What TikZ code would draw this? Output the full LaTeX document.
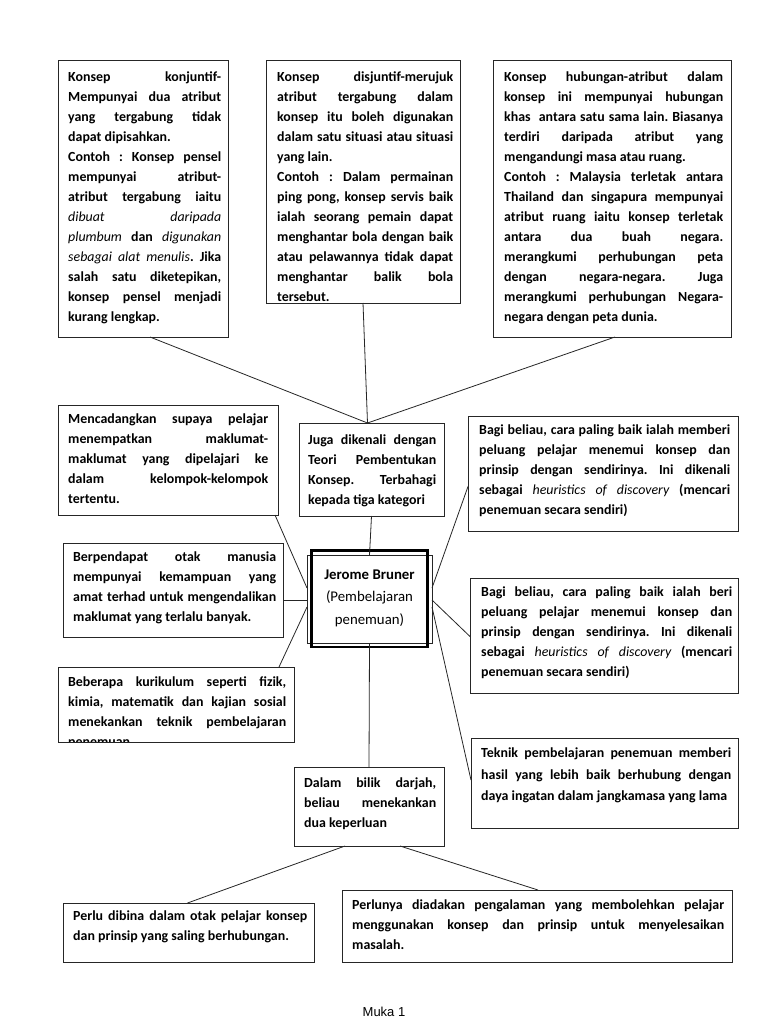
\documentclass[tikz,border=0pt]{standalone}
\usepackage{fontspec}
\setmainfont{Carlito}
\newfontfamily\pagefont{Liberation Sans}
\begin{document}
\frenchspacing
\begin{tikzpicture}[x=1pt,y=-1pt,
  box/.style={draw=black!85, line width=0.9pt, inner sep=0pt, outer sep=0pt, anchor=north west},
  txt/.style={anchor=north west, inner sep=0pt, text width=#1, align=justify, yshift=-3pt,
    font=\fontsize{13.9}{20}\selectfont\bfseries,
    execute at begin node={\parindent=0pt\tolerance=10000\hbadness=10000\hfuzz=3pt\hyphenpenalty=10000\exhyphenpenalty=10000\frenchspacing}},
  conn/.style={draw=black!85, line width=0.8pt}]
\useasboundingbox (0,0) rectangle (768,1024);
\fill[white] (0,0) rectangle (768,1024);
\newcommand\itl[1]{{\mdseries\itshape #1}}

% top row
\node[box, minimum width=170, minimum height=277] (b1) at (58,60) {};
\node[txt=153] (t1) at (68,69) {Konsep konjuntif-\linebreak Mempunyai dua atribut\linebreak yang tergabung tidak\linebreak dapat dipisahkan.\par
Contoh : Konsep pensel\linebreak mempunyai atribut-\linebreak atribut tergabung iaitu\linebreak \itl{dibuat daripada}\linebreak \itl{plumbum} dan \itl{digunakan}\linebreak \itl{sebagai alat menulis}. Jika\linebreak salah satu diketepikan,\linebreak konsep pensel menjadi\linebreak kurang lengkap.};

\node[box, minimum width=194, minimum height=243] (b2) at (266,60) {};
\node[txt=176] (t2) at (277,69) {Konsep disjuntif-merujuk\linebreak atribut tergabung dalam\linebreak konsep itu boleh digunakan\linebreak dalam satu situasi atau situasi\linebreak yang lain.\par
Contoh : Dalam permainan\linebreak ping pong, konsep servis baik\linebreak ialah seorang pemain dapat\linebreak menghantar bola dengan baik\linebreak atau pelawannya tidak dapat\linebreak menghantar balik bola\linebreak tersebut.};

\node[box, minimum width=238, minimum height=277] (b3) at (493,60) {};
\node[txt=219] (t3) at (504,69) {Konsep hubungan-atribut dalam\linebreak konsep ini mempunyai hubungan\linebreak khas\ \ antara satu sama lain. Biasanya\linebreak terdiri daripada atribut yang\linebreak mengandungi masa atau ruang.\par
Contoh : Malaysia terletak antara\linebreak Thailand dan singapura mempunyai\linebreak atribut ruang iaitu konsep terletak\linebreak antara dua buah negara.\linebreak merangkumi perhubungan peta\linebreak dengan negara-negara. Juga\linebreak merangkumi perhubungan Negara-\linebreak negara dengan peta dunia.};

% middle
\node[box, minimum width=220, minimum height=110] (l1) at (58,405) {};
\node[txt=200, yshift=2pt] (tl1) at (68,413) {Mencadangkan supaya pelajar\linebreak menempatkan maklumat-\linebreak maklumat yang dipelajari ke\linebreak dalam kelompok-kelompok\linebreak tertentu.};

\node[box, minimum width=145, minimum height=93] (juga) at (299,423) {};
\node[txt=128] (tj) at (308,432) {Juga dikenali dengan\linebreak Teori Pembentukan\linebreak Konsep. Terbahagi\linebreak kepada tiga kategori};

\node[box, minimum width=270, minimum height=115] (r1) at (468,416) {};
\node[txt=251] (tr1) at (479,422) {Bagi beliau, cara paling baik ialah memberi\linebreak peluang pelajar menemui konsep dan\linebreak prinsip dengan sendirinya. Ini dikenali\linebreak sebagai \itl{heuristics of discovery} (mencari\linebreak penemuan secara sendiri)};

\node[box, minimum width=220, minimum height=94] (l2) at (63,543) {};
\node[txt=203] (tl2) at (73,549) {Berpendapat otak manusia\linebreak mempunyai kemampuan yang\linebreak amat terhad untuk mengendalikan\linebreak maklumat yang terlalu banyak.};

\begin{scope}
\clip (58,667) rectangle (294,742);
\node[txt=218] (tl3) at (68,674) {Beberapa kurikulum seperti fizik,\linebreak kimia, matematik dan kajian sosial\linebreak menekankan teknik pembelajaran\linebreak penemuan.};
\end{scope}
\node[box, minimum width=236, minimum height=75] (l3) at (58,667) {};

% centre
\node[box, minimum width=125, minimum height=88, line width=0.8pt] (bru) at (307,555) {};
\draw[line width=2.6pt] ([shift={(4.5,-4.5)}]bru.north west) rectangle ([shift={(-4.5,4)}]bru.south east);
\node[align=center, inner sep=0pt, font=\fontsize{14.8}{22.5}\selectfont] (brut) at (369.5,598) {{\bfseries Jerome Bruner}\\(Pembelajaran\\penemuan)};

\node[box, minimum width=268, minimum height=115] (r2) at (470,578) {};
\node[txt=251] (tr2) at (481,584) {Bagi beliau, cara paling baik ialah beri\linebreak peluang pelajar menemui konsep dan\linebreak prinsip dengan sendirinya. Ini dikenali\linebreak sebagai \itl{heuristics of discovery} (mencari\linebreak penemuan secara sendiri)};

\node[box, minimum width=267, minimum height=90] (r3) at (471,738) {};
\node[txt=250, yshift=-1pt, font=\fontsize{13.9}{21.5}\selectfont\bfseries] (tr3) at (481,744) {Teknik pembelajaran penemuan memberi\linebreak hasil yang lebih baik berhubung dengan\linebreak daya ingatan dalam jangkamasa yang lama};

\node[box, minimum width=150, minimum height=79] (dal) at (294,767) {};
\node[txt=132] (td) at (304,775) {Dalam bilik darjah,\linebreak beliau menekankan\linebreak dua keperluan};

% bottom
\node[box, minimum width=251, minimum height=59] (bl) at (63,903) {};
\node[txt=234] (tbl) at (73,908) {Perlu dibina dalam otak pelajar konsep\linebreak dan prinsip yang saling berhubungan.};

\node[box, minimum width=390, minimum height=72] (br) at (342,890) {};
\node[txt=372, yshift=-1pt] (tbr) at (352,896) {Perlunya diadakan pengalaman yang membolehkan pelajar\linebreak menggunakan konsep dan prinsip untuk menyelesaikan\linebreak masalah.};

\node[font=\pagefont\fontsize{13}{15}\selectfont, inner sep=0pt] (muka) at (384,1012) {Muka 1};

% connectors
\draw[conn] ([xshift=7]b1.south) -- ([xshift=-4]juga.north);
\draw[conn] (b2.south) -- ([xshift=-4]juga.north);
\draw[conn] ([xshift=3]b3.south) -- ([xshift=-4]juga.north);
\draw[conn] (juga.south) -- (bru.north);
\draw[conn] ([xshift=-3]l1.south east) -- ([yshift=11]bru.west);
\draw[conn] ([yshift=-10]l2.east) -- ([yshift=-1]bru.west);
\draw[conn] ([xshift=-15]l3.north east) -- ([yshift=-8]bru.west);
\draw[conn] ([yshift=11]bru.east) -- ([yshift=-13]r1.west);
\draw[conn] ([yshift=-1]bru.east) -- ([yshift=-1]r2.west);
\draw[conn] ([yshift=-8]bru.east) -- ([yshift=3]r3.west);
\draw[conn] (bru.south) -- (dal.north);
\draw[conn] ([xshift=-24]dal.south) -- ([xshift=-1]bl.north);
\draw[conn] ([xshift=31]dal.south) -- ([xshift=1]br.north);
\end{tikzpicture}
\end{document}
